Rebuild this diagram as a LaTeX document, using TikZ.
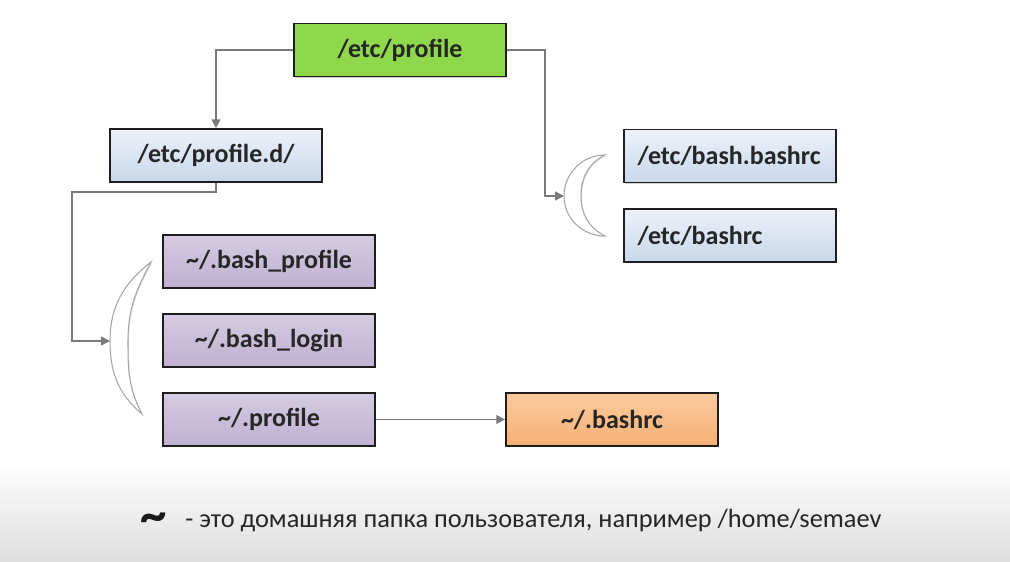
\documentclass[tikz,border=0pt]{standalone}
\usepackage{fontspec}
\setmainfont{Carlito}
\usetikzlibrary{shadows,arrows.meta}
\definecolor{boxgreen}{HTML}{8FD84C}
\definecolor{blueT}{HTML}{EDF2F9}
\definecolor{blueB}{HTML}{C8D7EB}
\definecolor{purT}{HTML}{D5CBE2}
\definecolor{purB}{HTML}{BEB1D2}
\definecolor{orT}{HTML}{FCCB9E}
\definecolor{orB}{HTML}{F6AF74}
\definecolor{conn}{HTML}{7A7A7A}
\definecolor{boxline}{HTML}{1E1E1E}
\tikzset{
  fbox/.style={draw=boxline, line width=1.1pt, minimum width=4.24cm, minimum height=1.06cm,
    font=\fontsize{14.8}{16}\selectfont\bfseries, text=black!85,
    drop shadow={shadow xshift=0.6pt, shadow yshift=-0.8pt, opacity=0.35}},
  greenbox/.style={fbox, fill=boxgreen},
  bluebox/.style={fbox, top color=blueT, bottom color=blueB},
  purbox/.style={fbox, top color=purT, bottom color=purB},
  orbox/.style={fbox, top color=orT, bottom color=orB},
  leftbox/.style={text width=3.7cm, align=left},
  conline/.style={draw=conn, line width=0.9pt},
  conarrow/.style={conline, -{Triangle[length=5pt,width=5pt]}},
  moon/.style={draw=gray!70, line width=0.6pt, fill=white,
    drop shadow={shadow xshift=0.6pt, shadow yshift=-0.6pt, opacity=0.25}},
}
\begin{document}
\begin{tikzpicture}[x=0.02cm,y=-0.02cm]
\useasboundingbox (0,0) rectangle (1010,561);
\fill[white] (0,0) rectangle (1010,561);
\shade[top color=white, bottom color=black!13] (0,462) rectangle (1010,561);

% nodes
\node[greenbox] (prof) at (400,50) {/etc/profile};
\node[bluebox] (profd) at (216,155.5) {/etc/profile.d/};
\node[bluebox, leftbox] (bb) at (730,156) {/etc/bash.bashrc};
\node[bluebox, leftbox] (brc) at (730,235.5) {/etc/bashrc};
\node[purbox] (bp) at (269,261.5) {\textasciitilde/.bash\_profile};
\node[purbox] (bl) at (269,340.5) {\textasciitilde/.bash\_login};
\node[purbox] (pr) at (269,419.5) {\textasciitilde/.profile};
\node[orbox] (rc) at (612,419.5) {\textasciitilde/.bashrc};

% crescents
\coordinate (m1) at (564,196);
\coordinate (m2) at (110,341);
\path[moon] (605,155) to[out=180,in=90] (m1) to[out=270,in=180] (605,236)
  to[out=153,in=270] (581,196) to[out=90,in=207] cycle;
\path[moon] (151,262) to[out=218,in=90] (m2) to[out=270,in=140] (142,414)
  to[out=118,in=270] (128,341) to[out=90,in=242] cycle;

% connectors
\draw[conarrow] (prof.west) -| (profd.north);
\draw[conarrow] (prof.east) -| (545,196) -- (m1);
\draw[conarrow] (profd.south) |- (72,192) |- (m2);
\draw[conarrow] (pr.east) -- (rc.west);

% footer
\node[font=\fontsize{30}{30}\selectfont\bfseries, anchor=center, text=black!90] (tl) at (154,523) {\textasciitilde};
\node[font=\fontsize{15}{16}\selectfont, anchor=west, inner sep=0pt, text=black!85] (note) at (185,521)
  {- это домашняя папка пользователя, например /home/semaev};
\end{tikzpicture}
\end{document}
